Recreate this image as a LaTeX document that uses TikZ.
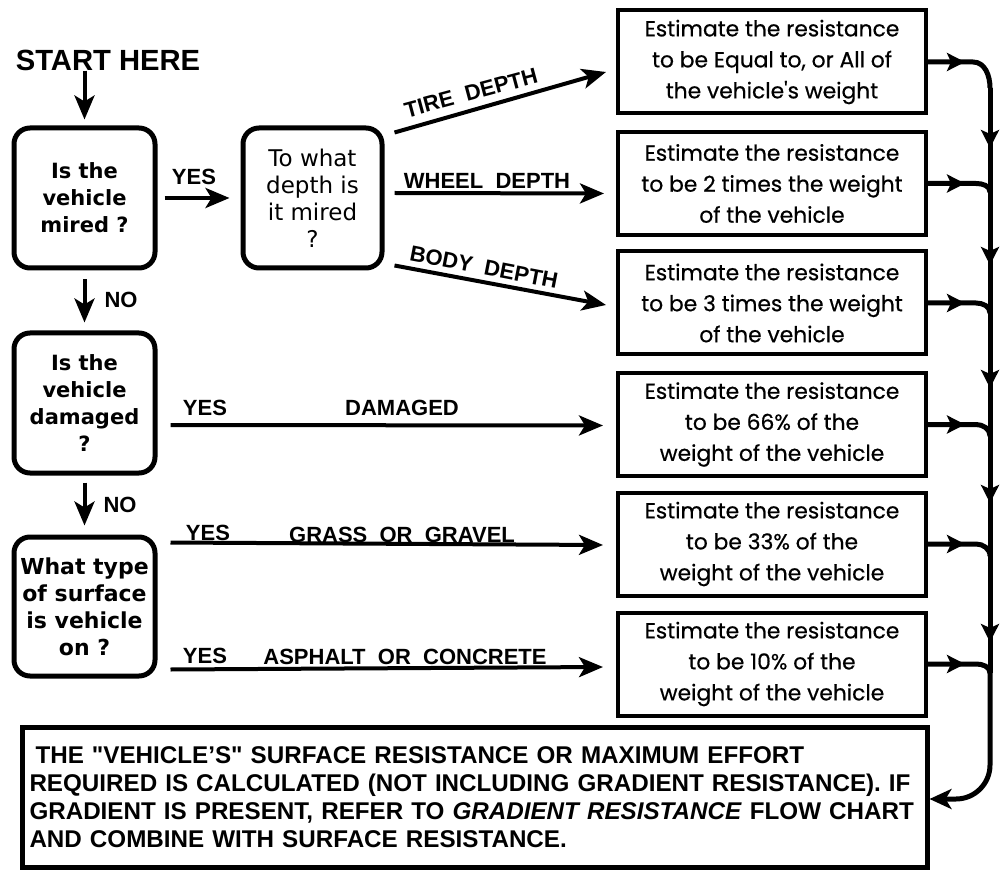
\documentclass[tikz,border=0pt]{standalone}
\usepackage{fontspec}
\usetikzlibrary{arrows.meta,decorations.markings,calc}
\setmainfont{Liberation Sans}
\newfontfamily\qfont{DejaVu Sans}
\newfontfamily\rfont[FakeBold=0.6]{Poppins}
\begin{document}
\begin{tikzpicture}[x=0.5pt,y=-0.5pt,
  qbox/.style={draw, line width=2.5pt, rounded corners=8pt, minimum width=70.5pt, minimum height=70pt, inner sep=0pt, align=center},
  rbox/.style={draw, line width=2pt, minimum width=154pt, minimum height=51.5pt, inner sep=0pt, align=center, font=\rfont\fontsize{10.9}{15.5}\selectfont},
  lab/.style={font=\bfseries\fontsize{11}{13}\selectfont, inner sep=0pt},
  arr/.style={line width=2pt, -{Stealth[length=12pt,width=10pt,inset=3pt]}},
  wire/.style={line width=2.5pt},
  tipat/.style={postaction={decorate}, decoration={markings, mark=at position #1 with {\arrow{Stealth[length=9pt,width=9pt,inset=2pt]}}}},
]
\useasboundingbox (0,0) rectangle (1000,871);
% left column
\node[font=\bfseries\fontsize{14.6}{16}\selectfont, inner sep=0pt] (start) at (108,60) {START HERE};
\node[qbox, font=\qfont\bfseries\fontsize{10.5}{13.5}\selectfont] (q1) at (84.5,198) {Is the\\vehicle\\mired ?};
\node[qbox, minimum width=69.5pt, font=\qfont\fontsize{11.5}{13.5}\selectfont] (q2) at (312.5,198) {To what\\depth is\\it mired\\?};
\node[qbox, font=\qfont\bfseries\fontsize{10.5}{13.5}\selectfont] (q3) at (84.5,403) {Is the\\vehicle\\damaged\\?};
\node[qbox, minimum height=69.5pt, font=\qfont\bfseries\fontsize{11}{13.5}\selectfont] (q4) at (84.5,606.5) {What type\\of surface\\is vehicle\\on ?};
% result boxes
\node[rbox] (r1) at (772,62) {Estimate the resistance\\to be Equal to, or All of\\the vehicle's weight};
\node[rbox] (r2) at (772,183.5) {Estimate the resistance\\to be 2 times the weight\\of the vehicle};
\node[rbox] (r3) at (772,303) {Estimate the resistance\\to be 3 times the weight\\of the vehicle};
\node[rbox] (r4) at (772,424.5) {Estimate the resistance\\to be 66\% of the\\weight of the vehicle};
\node[rbox] (r5) at (772,544) {Estimate the resistance\\to be 33\% of the\\weight of the vehicle};
\node[rbox] (r6) at (772,664) {Estimate the resistance\\to be 10\% of the\\weight of the vehicle};
% bottom box
\node[draw, line width=2.5pt, minimum width=452.5pt, minimum height=70pt, inner sep=0pt, inner xsep=3.5pt,
  text width=445pt, align=left,
  font=\bfseries\fontsize{12.1}{14}\selectfont] (res) at (474.5,797)
  {\hspace*{3pt}THE \textquotedbl VEHICLE'S\textquotedbl\ SURFACE RESISTANCE OR MAXIMUM EFFORT\\
   REQUIRED IS CALCULATED (NOT INCLUDING GRADIENT RESISTANCE). IF\\
   GRADIENT IS PRESENT, REFER TO \textit{GRADIENT RESISTANCE} FLOW CHART\\
   AND COMBINE WITH SURFACE RESISTANCE.};
% left arrows
\draw[arr, shorten >=3pt] (start.south -| q1.north) -- (q1.north);
\draw[arr, shorten <=3.5pt, shorten >=5.5pt] (q1.east) -- (q2.west);
\node[lab] (yes1) at (194,177) {YES};
\draw[arr, shorten <=4.5pt, shorten >=4pt] (q1.south) -- (q3.north);
\node[lab] (no1) at (121,300) {NO};
\draw[arr, shorten <=3.5pt, shorten >=4.5pt] (q3.south) -- (q4.north);
\node[lab] (no2) at (120,505) {NO};
% depth arrows
\draw[arr] ([shift={(10,7)}]q2.north east) -- ([shift={(-10,10)}]r1.west);
\node[lab, rotate=15] (tire) at (471,93) {TIRE\ \ DEPTH};
\draw[arr] ([shift={(10,-5)}]q2.east) -- ([shift={(-12,10)}]r2.west);
\node[lab] (wheel) at (487,181) {WHEEL\ \ DEPTH};
\draw[arr] ([shift={(10,-5)}]q2.south east) -- ([shift={(-10,2)}]r3.west);
\node[lab, rotate=-11] (body) at (484,267) {BODY\ \ DEPTH};
% damaged / surface arrows
\draw[arr] ([shift={(13,22)}]q3.east) -- ([shift={(-13,1)}]r4.west);
\node[lab] (yes2) at (205,408) {YES};
\node[lab] (dam) at (402,408) {DAMAGED};
\draw[arr] ([shift={(13,8)}]q4.north east) -- ([shift={(-13,1)}]r5.west);
\node[lab] (yes3) at (208,533) {YES};
\node[lab] (grass) at (402,535) {GRASS\ \ OR\ \ GRAVEL};
\draw[arr] ([shift={(13,-9)}]q4.south east) -- ([shift={(-13,3)}]r6.west);
\node[lab] (yes4) at (205,656) {YES};
\node[lab] (asph) at (405,657) {ASPHALT\ \ OR\ \ CONCRETE};
% right bus
\coordinate (v1) at (990,88);
\coordinate (j2) at (990,192);
\coordinate (j3) at (990,313);
\coordinate (j4) at (990,436);
\coordinate (j5) at (990,556);
\coordinate (j6) at (990,673);
\coordinate (b1) at (990,799);
\draw[wire, tipat=18.5pt] (r1.east) -- ++(45,0) to[out=0,in=90] (v1);
\draw[wire, tipat=18.5pt] (r2.east) -- ++(48,0) to[out=0,in=90] (j2);
\draw[wire, tipat=18.5pt] (r3.east) -- ++(48,0) to[out=0,in=90] (j3);
\draw[wire, tipat=18.5pt] (r4.east) -- ++(48,0) to[out=0,in=90] (j4);
\draw[wire, tipat=18.5pt] (r5.east) -- ++(48,0) to[out=0,in=90] (j5);
\draw[wire, tipat=18.5pt] (r6.east) -- ++(48,0) to[out=0,in=90] (j6);
\draw[wire, tipat=30pt] (v1) -- (j2);
\draw[wire, tipat=36.5pt] (j2) -- (j3);
\draw[wire, tipat=37.5pt] (j3) -- (j4);
\draw[wire, tipat=33.5pt] (j4) -- (j5);
\draw[wire, tipat=43pt] (j5) -- (j6);
\draw[wire, rounded corners=17pt, -{Stealth[length=11pt,width=10pt,inset=3pt]}] (j6) -- (b1) -- (res.east |- b1);
\end{tikzpicture}
\end{document}
